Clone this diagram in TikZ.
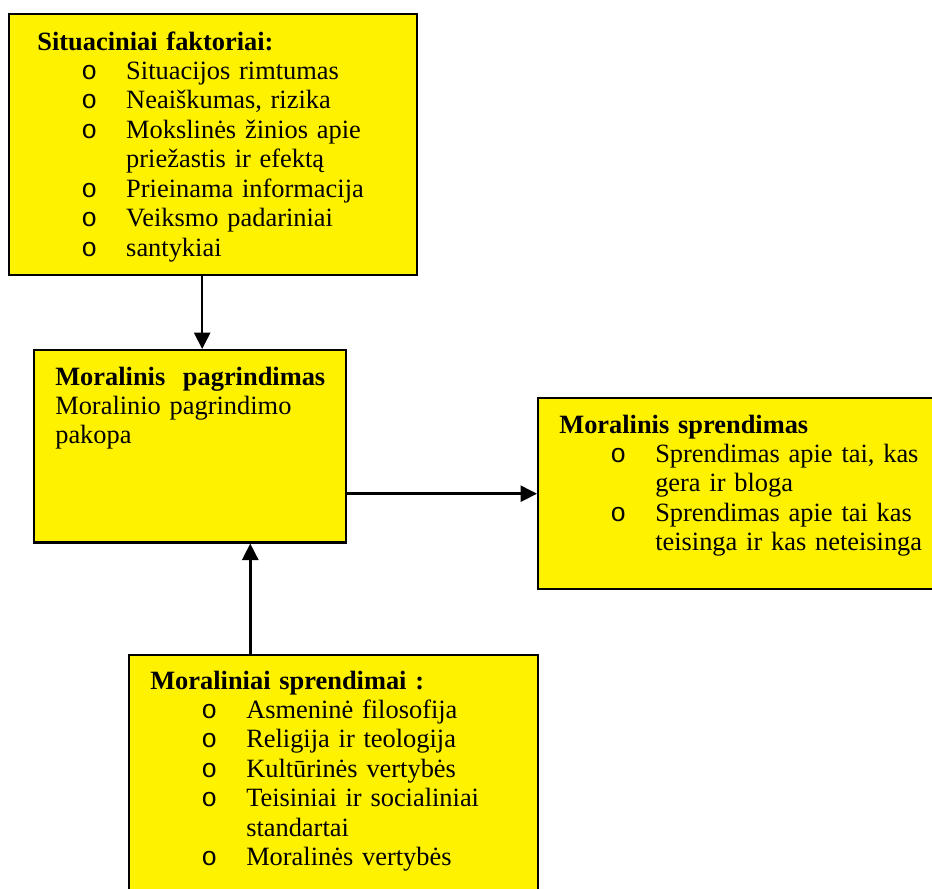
\documentclass[tikz,border=0pt]{standalone}
\usepackage{fontspec}
\setmainfont{Liberation Serif}
\newfontfamily\bulletfont{Liberation Mono}
\usetikzlibrary{positioning,arrows.meta,calc}
\tikzset{
	flow/.style={x=0.4545pt,y=-0.4545pt,>={Triangle[length=7.5pt,width=7.3pt]},
		line width=1.2pt},
	factorbox/.style={draw,fill=yellow,anchor=north west,inner sep=0pt,line width=1.1pt},
	boxtext/.style={anchor=base west,inner sep=0pt,text width=200pt,align=left,
		font=\fontsize{12}{13.4}\selectfont}
}
\newcommand{\itm}[1]{\hspace*{23.2pt}\makebox[20.4pt][l]{\bulletfont o}#1}
\newcommand{\cont}[1]{\hspace*{43.6pt}#1}

\begin{document}
\begin{tikzpicture}[flow]
	\useasboundingbox (0,0) rectangle (932,888);
	\clip (0,0) rectangle (932,888);
	
	\node[factorbox,minimum width=185.4pt,minimum height=118.6pt] (sit) at (8,13) {};
	\node[factorbox,minimum width=141.8pt,minimum height=87.3pt] (pag) at (33,349) {};
	\node[factorbox,minimum width=195.4pt,minimum height=86.8pt] (spr) at (537,397) {};
	\node[factorbox,minimum width=185.9pt,minimum height=118.2pt] (vert) at (128,654) {};
	
	\node[boxtext] (sit-txt) at ([shift={(21,37)}]sit.north west) {\hspace*{3.2pt}\textbf{Situaciniai faktoriai:}\\
		\itm{Situacijos rimtumas}\\
		\itm{Neaiškumas, rizika}\\
		\itm{Mokslinės žinios apie}\\
		\cont{priežastis ir efektą}\\
		\itm{Prieinama informacija}\\
		\itm{Veiksmo padariniai}\\
		\itm{santykiai}};
	\node[boxtext] (pag-txt) at ([shift={(21,36)}]pag.north west) {\textbf{Moralinis\ \ pagrindimas}\\
		Moralinio pagrindimo\\
		pakopa};
	\node[boxtext] (spr-txt) at ([shift={(21,36)}]spr.north west) {\textbf{Moralinis sprendimas}\\
		\itm{Sprendimas apie tai, kas}\\
		\cont{gera ir bloga}\\
		\itm{Sprendimas apie tai kas}\\
		\cont{teisinga ir kas neteisinga}};
	\node[boxtext] (vert-txt) at ([shift={(21,35)}]vert.north west) {\textbf{Moraliniai sprendimai :}\\
		\itm{Asmeninė filosofija}\\
		\itm{Religija ir teologija}\\
		\itm{Kultūrinės vertybės}\\
		\itm{Teisiniai ir socialiniai}\\
		\cont{standartai}\\
		\itm{Moralinės vertybės}};
	
	\draw[->] ([xshift=-5pt]sit.south) -- ([xshift=-5pt]sit.south |- pag.north);
	\draw[->] (pag.east |- spr.west) -- (spr.west);
	\draw[->] ([xshift=27.3pt]pag.south |- vert.north) -- ([xshift=27.3pt]pag.south);
\end{tikzpicture}
\end{document}
